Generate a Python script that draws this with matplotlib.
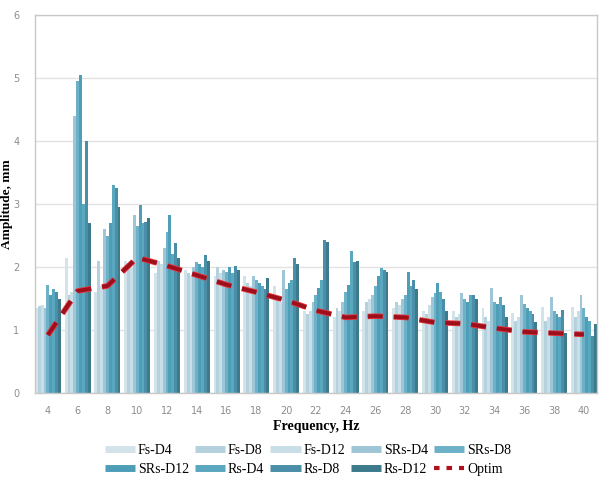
import numpy as np
import matplotlib
matplotlib.use("Agg")
import matplotlib.pyplot as plt
from matplotlib.lines import Line2D
import matplotlib.patheffects as pe

# frequencies (Hz) and amplitudes (mm)
freqs = [4, 6, 8, 10, 12, 14, 16, 18, 20, 22, 24, 26, 28, 30, 32, 34, 36, 38, 40]
fs_d4 = [1.35, 2.15, 1.6, 2.1, 1.9, 1.95, 1.85, 1.85, 1.7, 1.3, 1.2, 1.3, 1.35, 1.3, 1.3, 1.35, 1.27, 1.37, 1.37]
fs_d8 = [1.38, 1.55, 2.1, 2.05, 2.1, 1.9, 2.0, 1.75, 1.5, 1.25, 1.35, 1.45, 1.45, 1.25, 1.2, 1.2, 1.15, 1.15, 1.2]
fs_d12 = [1.4, 1.6, 1.7, 2.0, 2.05, 1.85, 1.9, 1.7, 1.45, 1.3, 1.3, 1.5, 1.4, 1.4, 1.25, 1.15, 1.2, 1.2, 1.3]
srs_d4 = [1.35, 4.4, 2.6, 2.83, 2.3, 2.0, 1.95, 1.85, 1.95, 1.45, 1.45, 1.55, 1.5, 1.52, 1.58, 1.67, 1.56, 1.52, 1.56]
srs_d8 = [1.72, 4.95, 2.5, 2.65, 2.56, 2.08, 1.92, 1.8, 1.65, 1.55, 1.6, 1.7, 1.55, 1.58, 1.5, 1.45, 1.42, 1.3, 1.35]
srs_d12 = [1.55, 5.05, 2.7, 2.98, 2.83, 2.05, 2.0, 1.75, 1.75, 1.67, 1.72, 1.85, 1.92, 1.75, 1.45, 1.42, 1.35, 1.25, 1.2]
rs_d4 = [1.65, 3.0, 3.3, 2.7, 2.2, 2.0, 1.9, 1.7, 1.8, 1.8, 2.25, 1.98, 1.7, 1.6, 1.55, 1.52, 1.3, 1.2, 1.15]
rs_d8 = [1.6, 4.0, 3.25, 2.72, 2.38, 2.19, 2.02, 1.65, 2.14, 2.43, 2.08, 1.95, 1.8, 1.5, 1.56, 1.4, 1.25, 1.32, 0.9]
rs_d12 = [1.5, 2.7, 2.95, 2.78, 2.15, 2.1, 1.95, 1.82, 2.05, 2.4, 2.1, 1.92, 1.65, 1.3, 1.5, 1.2, 1.12, 0.95, 1.1]
optim = [0.92, 1.62, 1.7, 2.15, 2.02, 1.87, 1.72, 1.6, 1.47, 1.31, 1.2, 1.22, 1.2, 1.12, 1.1, 1.03, 0.97, 0.95, 0.93]

names = ["Fs-D4", "Fs-D8", "Fs-D12", "SRs-D4", "SRs-D8", "SRs-D12", "Rs-D4", "Rs-D8", "Rs-D12"]
series = [fs_d4, fs_d8, fs_d12, srs_d4, srs_d8, srs_d12, rs_d4, rs_d8, rs_d12]
colors = ["#D3E3EA", "#B5D1DE", "#C9DFE8", "#9FC6D6", "#6CB1C8", "#4E9EB8",
          "#5AA7C0", "#4A8EA7", "#3C7A8C"]

plt.rcParams["lines.scale_dashes"] = False

fig = plt.figure(figsize=(6, 4.84), dpi=100)
ax = fig.add_axes([0.058, 0.188, 0.937, 0.781])

x = np.arange(len(freqs))
bw = 0.097
for i, (vals, c) in enumerate(zip(series, colors)):
    ax.bar(x + (i - 4) * bw, vals, width=bw, color=c, linewidth=0, zorder=2)

ax.plot(x, optim, color="#9E0F1E", lw=2.8, dashes=(10.8, 7.9), zorder=3,
        path_effects=[pe.Stroke(linewidth=4.0, foreground="#E8383A"), pe.Normal()])

ax.set_xlim(-0.44, 18.44)
ax.set_ylim(0, 6)
ax.set_xticks(x)
ax.set_xticklabels([str(f) for f in freqs])
ax.set_yticks(range(7))
ax.tick_params(length=0, labelsize=7, colors="#8C8C8C", pad=9)
ax.tick_params(axis="y", pad=11)
ax.yaxis.grid(True, color="#E3E3E3", lw=1, zorder=0)
ax.set_axisbelow(True)
for s in ax.spines.values():
    s.set_color("#C8C8C8")
    s.set_linewidth(1)

ax.set_xlabel("Frequency, Hz", family="Liberation Serif", fontweight="bold", fontsize=10, labelpad=3)
ax.set_ylabel("Amplitude, mm", family="Liberation Serif", fontweight="bold", fontsize=9.5, labelpad=0)

handles = [Line2D([], [], color=c, lw=5, solid_capstyle="butt") for c in colors]
handles.append(Line2D([], [], color="#B0101E", lw=3, dashes=(4, 5)))
labels = names + ["Optim"]
order = [0, 5, 1, 6, 2, 7, 3, 8, 4, 9]
fig.legend([handles[k] for k in order], [labels[k] for k in order], ncol=5,
           loc="center", bbox_to_anchor=(0.513, 0.05), frameon=False,
           prop={"family": "Liberation Serif", "size": 10},
           handlelength=2.2, handletextpad=0.2, columnspacing=0.4, labelspacing=0.45)

fig.savefig("out.png", dpi=100)
